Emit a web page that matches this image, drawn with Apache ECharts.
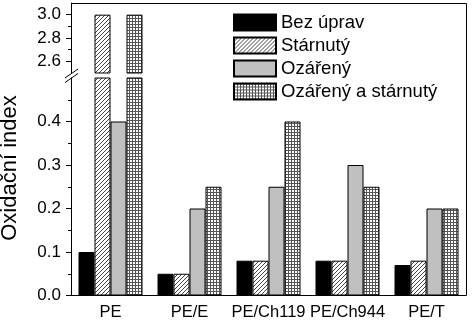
<!DOCTYPE html>
<html>
<head>
<meta charset="utf-8">
<script src="https://cdn.jsdelivr.net/npm/echarts@6/dist/echarts.min.js"></script>
<style>
html,body{margin:0;padding:0;background:#fff;}
#c{width:472px;height:321px;}
</style>
</head>
<body>
<div id="c"></div>
<script>
// ---- data ----
const categories = ['PE', 'PE/E', 'PE/Ch119', 'PE/Ch944', 'PE/T'];
const seriesNames = ['Bez úprav', 'Stárnutý', 'Ozářený', 'Ozářený a stárnutý'];
const bezUprav = [0.10, 0.05, 0.08, 0.08, 0.07];
const starnuty = [3.00, 0.05, 0.08, 0.08, 0.08];
const ozareny = [0.40, 0.20, 0.25, 0.30, 0.20];
const ozarenyStarnuty = [3.00, 0.25, 0.40, 0.25, 0.20];
const lowerTickLabels = [0, 0.1, 0.2, 0.3, 0.4];
const lowerMinorTicks = [0.05, 0.15, 0.25, 0.35, 0.45];
const upperTickLabels = [2.6, 2.8, 3.0];
const upperMinorTicks = [2.7, 2.9];
const lowerRange = [0, 0.5];
const upperRange = [2.5, 3.1];

// ---- patterns ----
function diagPattern() {
  const c = document.createElement('canvas');
  c.width = 4; c.height = 4;
  const g = c.getContext('2d');
  g.fillStyle = '#fff'; g.fillRect(0, 0, 4, 4);
  g.strokeStyle = '#444'; g.lineWidth = 1;
  g.beginPath();
  g.moveTo(-1, 5); g.lineTo(5, -1);
  g.moveTo(-1, 1); g.lineTo(1, -1);
  g.moveTo(3, 5); g.lineTo(5, 3);
  g.stroke();
  return c;
}
function gridPattern() {
  const c = document.createElement('canvas');
  c.width = 3; c.height = 3;
  const g = c.getContext('2d');
  g.fillStyle = '#fff'; g.fillRect(0, 0, 3, 3);
  g.fillStyle = '#555';
  g.fillRect(0, 0, 3, 1);
  g.fillRect(0, 0, 1, 3);
  return c;
}
const fills = [
  '#000000',
  { image: diagPattern(), repeat: 'repeat' },
  '#c0c0c0',
  { image: gridPattern(), repeat: 'repeat' }
];
const allData = [bezUprav, starnuty, ozareny, ozarenyStarnuty];

const FONT = '"Liberation Sans", Arial, sans-serif';

const series = [];
allData.forEach((arr, i) => {
  series.push({
    name: seriesNames[i], type: 'bar', xAxisIndex: 0, yAxisIndex: 0,
    data: arr.slice(), barWidth: 16, barGap: '0%', clip: true,
    itemStyle: { color: fills[i], borderColor: '#000', borderWidth: 1 }
  });
});
allData.forEach((arr, i) => {
  series.push({
    name: seriesNames[i], type: 'bar', xAxisIndex: 2, yAxisIndex: 2,
    data: arr.map(v => v >= upperRange[0] ? v : '-'), barWidth: 16, barGap: '0%', clip: true,
    itemStyle: { color: fills[i], borderColor: '#000', borderWidth: 1 }
  });
});

const chart = echarts.init(document.getElementById('c'), null, { renderer: 'canvas' });
chart.setOption({
  animation: false,
  backgroundColor: '#fff',
  textStyle: { fontFamily: FONT, color: '#000' },
  grid: [
    { left: 71, right: 6, top: 78, height: 217.5 },
    { left: 71, right: 6, top: 3, height: 70 }
  ],
  legend: {
    orient: 'vertical', left: 228, top: 8,
    itemWidth: 42, itemHeight: 16, itemGap: 4, icon: 'rect',
    data: seriesNames,
    textStyle: { fontSize: 18.5, fontFamily: FONT, color: '#000' }
  },
  xAxis: [
    { type: 'category', gridIndex: 0, data: categories,
      axisLine: { lineStyle: { color: '#000', width: 1 } },
      axisTick: { alignWithLabel: true, length: 5, lineStyle: { color: '#000' } },
      axisLabel: { interval: 0, fontSize: 16.5, color: '#000', margin: 8, fontFamily: FONT },
      splitLine: { show: false } },
    { type: 'category', gridIndex: 0, data: categories, position: 'bottom',
      axisLine: { show: false },
      axisTick: { length: 3, lineStyle: { color: '#000' } },
      axisLabel: { show: false }, splitLine: { show: false } },
    { type: 'category', gridIndex: 1, data: categories,
      axisLine: { show: false }, axisTick: { show: false }, axisLabel: { show: false } }
  ],
  yAxis: [
    { type: 'value', gridIndex: 0, min: lowerRange[0], max: lowerRange[1],
      axisLine: { show: true, lineStyle: { color: '#000', width: 1 } },
      axisTick: { show: true, length: 5, customValues: lowerTickLabels, lineStyle: { color: '#000' } },
      axisLabel: { customValues: lowerTickLabels, fontSize: 17, color: '#000', margin: 10, fontFamily: FONT,
        formatter: v => Number(v).toFixed(1) },
      splitLine: { show: false } },
    { type: 'value', gridIndex: 0, min: lowerRange[0], max: lowerRange[1], position: 'left',
      axisLine: { show: false },
      axisTick: { show: true, length: 3, customValues: lowerMinorTicks, lineStyle: { color: '#000' } },
      axisLabel: { show: false }, splitLine: { show: false } },
    { type: 'value', gridIndex: 1, min: upperRange[0], max: upperRange[1],
      axisLine: { show: true, lineStyle: { color: '#000', width: 1 } },
      axisTick: { show: true, length: 5, customValues: upperTickLabels, lineStyle: { color: '#000' } },
      axisLabel: { customValues: upperTickLabels, fontSize: 17, color: '#000', margin: 10, fontFamily: FONT,
        formatter: v => Number(v).toFixed(1) },
      splitLine: { show: false } },
    { type: 'value', gridIndex: 1, min: upperRange[0], max: upperRange[1], position: 'left',
      axisLine: { show: false },
      axisTick: { show: true, length: 3, customValues: upperMinorTicks, lineStyle: { color: '#000' } },
      axisLabel: { show: false }, splitLine: { show: false } }
  ],
  graphic: [
    { type: 'polyline', shape: { points: [[71.5, 3.5], [466.5, 3.5], [466.5, 295.5]] },
      style: { stroke: '#000', lineWidth: 1, fill: null }, z: 10 },
    { type: 'line', shape: { x1: 65, y1: 78, x2: 78, y2: 69 }, style: { stroke: '#000', lineWidth: 1 }, z: 10 },
    { type: 'line', shape: { x1: 65, y1: 82.5, x2: 78, y2: 73.5 }, style: { stroke: '#000', lineWidth: 1 }, z: 10 },
    { type: 'text', x: 10, y: 168, rotation: Math.PI / 2,
      style: { text: 'Oxidační index', font: '22px ' + FONT, fill: '#000', textAlign: 'center', textVerticalAlign: 'middle' } }
  ],
  series: series
});
</script>
</body>
</html>
